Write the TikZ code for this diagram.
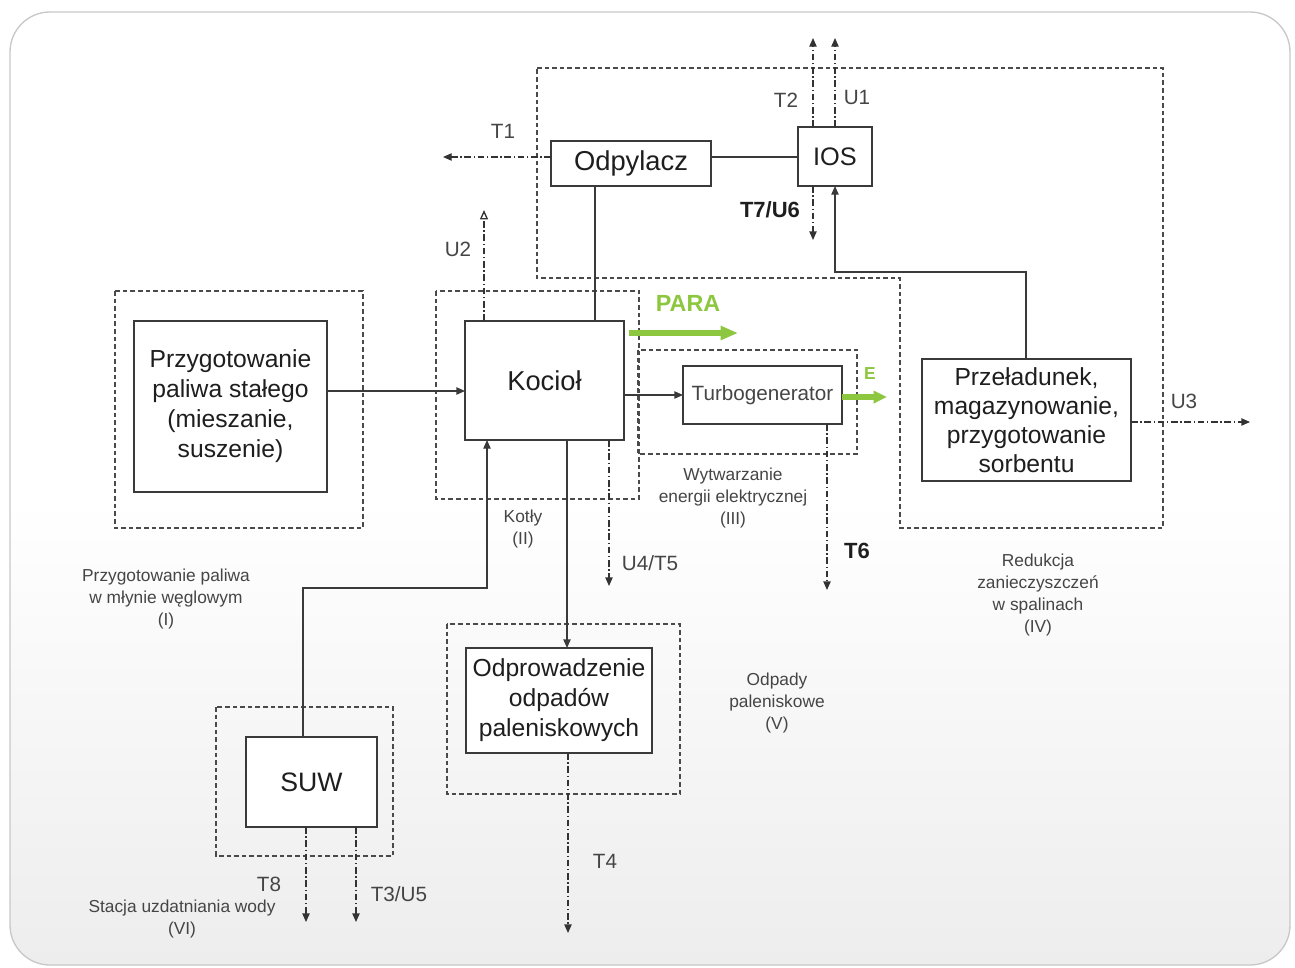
\documentclass[tikz,border=0pt]{standalone}
\usepackage{fontspec}
\setmainfont{Liberation Sans}
\usetikzlibrary{arrows.meta}
\definecolor{boxline}{HTML}{3A3A3A}
\definecolor{boxtext}{HTML}{1E1E1E}
\definecolor{zoneline}{HTML}{4A4A4A}
\definecolor{emitline}{HTML}{333333}
\definecolor{labelgray}{HTML}{454545}
\definecolor{steamgreen}{HTML}{8DC63F}
\definecolor{panelbottom}{HTML}{EDEDED}
\definecolor{panelborder}{HTML}{C8C8C8}

\begin{document}
\begin{tikzpicture}[x=0.75pt,y=-0.75pt,
  box/.style={draw=boxline, line width=1.3pt, fill=white, inner sep=0pt, outer sep=0pt,
    align=center, text=boxtext, font=\fontsize{18.5}{22.5}\selectfont},
  zone/.style={draw=zoneline, line width=1.1pt, dash pattern=on 3.5pt off 2.2pt},
  link/.style={draw=boxline, line width=1pt},
  flow/.style={link, -{Triangle[length=6.5pt,width=5.5pt]}},
  emit/.style={draw=emitline, line width=1pt, dash pattern=on 5pt off 2pt on 1pt off 2pt,
    -{Triangle[length=6.5pt,width=5.5pt]}},
  steam/.style={draw=steamgreen, line width=4.5pt, -{Triangle[length=13pt,width=10pt]}},
  zonelabel/.style={align=center, text=labelgray, font=\fontsize{13}{16.5}\selectfont},
  tag/.style={text=labelgray, font=\fontsize{15.5}{18}\selectfont},
  tagdark/.style={text=boxtext, font=\bfseries\fontsize{16.5}{20}\selectfont},
  greentag/.style={text=steamgreen, font=\bfseries\fontsize{17.5}{20}\selectfont}]

\useasboundingbox (0,0) rectangle (1295,967);

% panel with soft grey lower half
\begin{scope}
  \clip[rounded corners=30pt] (10,12) rectangle (1290,965);
  \fill[white] (10,12) rectangle (1290,965);
  \shade[top color=white, bottom color=panelbottom] (10,500) rectangle (1290,965);
\end{scope}
\draw[panelborder, line width=1pt, rounded corners=30pt] (10,12) rectangle (1290,965);

% process zones
\draw[zone] (115,291) rectangle (363,528);
\draw[zone] (436,291) rectangle (639,499);
\draw[zone] (638,350) rectangle (857,454);
\draw[zone] (537,68) -- (1163,68) -- (1163,528) -- (900,528) -- (900,278) -- (537,278) -- cycle;
\draw[zone] (447,624) rectangle (680,794);
\draw[zone] (216,707) rectangle (393,856);

% units
\node[box, minimum width=120pt, minimum height=33.75pt, font=\fontsize{20.5}{24}\selectfont] (odp) at (631,163.5) {Odpylacz};
\node[box, minimum width=55.5pt, minimum height=44.25pt, font=\fontsize{19}{22}\selectfont] (ios) at (835,156.5) {IOS};
\node[box, minimum width=119.25pt, minimum height=89.25pt, font=\fontsize{20.5}{24}\selectfont] (koc) at (544.5,380.5) {Kocioł};
\node[box, minimum width=119.25pt, minimum height=43.5pt, text=labelgray, font=\fontsize{15.5}{18}\selectfont] (turb) at (762.5,395) {Turbogenerator};
\node[box, minimum width=144.75pt, minimum height=128.25pt] (prz) at (230.5,406.5) {Przygotowanie\\paliwa stałego\\(mieszanie,\\suszenie)};
\node[box, minimum width=156.75pt, minimum height=91.5pt, font=\fontsize{18.5}{21.75}\selectfont] (sorb) at (1026.5,420) {Przeładunek,\\magazynowanie,\\przygotowanie\\sorbentu};
\node[box, minimum width=139.5pt, minimum height=78.75pt] (odpr) at (559,700.5) {Odprowadzenie\\odpadów\\paleniskowych};
\node[box, minimum width=98.25pt, minimum height=67.5pt, font=\fontsize{20}{24}\selectfont] (suw) at (311.5,782) {SUW};

% main material flows
\draw[link] (odp.east |- 0,157) -- (ios.west |- 0,157);
\draw[link] (595,0 |- koc.north) -- (595,0 |- odp.south);
\draw[flow] (prz.east |- 0,391) -- (koc.west |- 0,391);
\draw[flow] (koc.east |- turb.west) -- (turb.west);
\draw[flow] (1026,0 |- sorb.north) -- (1026,272) -- (835,272) -- (ios.south);
\draw[flow] (303,0 |- suw.north) -- (303,588) -- (487,588) -- (487,0 |- koc.south);
\draw[flow] (567,0 |- koc.south) -- (567,0 |- odpr.north);

% free ends of the emission streams
\coordinate (T1end) at (443,157);
\coordinate (T2end) at (813,38);
\coordinate (U1end) at (835,38);
\coordinate (U2end) at (484,210);
\coordinate (T7end) at (813,240);
\coordinate (U3end) at (1250,422);
\coordinate (U4end) at (609,586);
\coordinate (T6end) at (827,590);
\coordinate (T4end) at (568,933);
\coordinate (T8end) at (306,922);
\coordinate (T3end) at (356,922);
\coordinate (PARAend) at (738,333);
\coordinate (Eend) at (887,397);

% emission streams
\draw[emit] (odp.west |- T1end) -- (T1end);
\draw[emit] (ios.north -| T2end) -- (T2end);
\draw[emit] (ios.north -| U1end) -- (U1end);
\draw[emit, -{Triangle[open,length=7pt,width=6pt]}] (koc.north -| U2end) -- (U2end);
\draw[emit] (ios.south -| T7end) -- (T7end);
\draw[emit] (sorb.east |- U3end) -- (U3end);
\draw[emit] (koc.south -| U4end) -- (U4end);
\draw[emit] (turb.south -| T6end) -- (T6end);
\draw[emit] (odpr.south -| T4end) -- (T4end);
\draw[emit] (suw.south -| T8end) -- (T8end);
\draw[emit] (suw.south -| T3end) -- (T3end);

% steam and electricity
\draw[steam, shorten <=4pt] (koc.east |- PARAend) -- (PARAend);
\draw[steam, line width=4pt, -{Triangle[length=10pt,width=9pt]}] (turb.east |- Eend) -- (Eend);

% stream labels
\node[tag] (lT1) at (503,131) {T1};
\node[tag] (lT2) at (786,100) {T2};
\node[tag] (lU1) at (857,97) {U1};
\node[tag] (lU2) at (458,249) {U2};
\node[tagdark] (lT7) at (770,210) {T7/U6};
\node[tag] (lU3) at (1184,401) {U3};
\node[tag] (lU4) at (650,563) {U4/T5};
\node[tagdark] (lT6) at (857,551) {T6};
\node[tag] (lT4) at (605,861) {T4};
\node[tag] (lT8) at (269,884) {T8};
\node[tag] (lT3) at (399,894) {T3/U5};
\node[greentag] (lPARA) at (688,303) {PARA};
\node[greentag, font=\bfseries\fontsize{13}{15}\selectfont] (lE) at (870,374) {E};

% zone captions
\node[zonelabel] (zI) at (166,599) {Przygotowanie paliwa\\w młynie węglowym\\(I)};
\node[zonelabel] (zII) at (523,529) {Kotły\\(II)};
\node[zonelabel] (zIII) at (733,498) {Wytwarzanie\\energii elektrycznej\\(III)};
\node[zonelabel] (zIV) at (1038,595) {Redukcja\\zanieczyszczeń\\w spalinach\\(IV)};
\node[zonelabel] (zV) at (777,703) {Odpady\\paleniskowe\\(V)};
\node[zonelabel] (zVI) at (182,919) {Stacja uzdatniania wody\\(VI)};
\end{tikzpicture}
\end{document}
